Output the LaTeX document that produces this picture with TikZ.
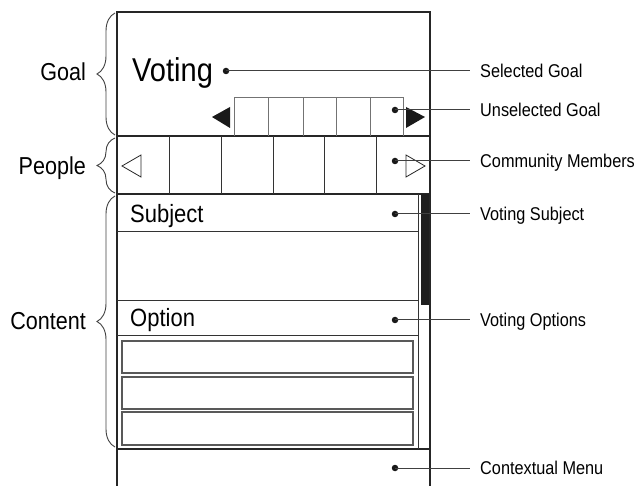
\documentclass[tikz,border=0pt]{standalone}
\usepackage{fontspec}
\setmainfont{Liberation Sans}[FakeStretch=0.88]
\usetikzlibrary{decorations.pathreplacing}
\begin{document}
\begin{tikzpicture}[x=1pt,y=-1pt,
  frame/.style={draw=black!85, line width=1.6pt},
  rule/.style={draw=black!80, line width=1pt},
  cell/.style={draw=black!55, line width=1pt},
  optbox/.style={draw=black!65, line width=1.3pt},
  bracestyle/.style={draw=black!75, line width=0.9pt, decorate,
    decoration={brace, amplitude=18pt}},
  dot/.style={circle, fill=black!90, inner sep=0pt, minimum size=6.5pt},
  callout/.style={draw=black!75, line width=1pt},
  tag/.style={anchor=west, inner xsep=10pt, inner ysep=0pt,
    text height=13.5pt, text depth=0pt, font=\fontsize{18.5}{20}\selectfont},
  side/.style={anchor=base east, inner sep=0pt, font=\fontsize{24.5}{26}\selectfont},
  heading/.style={anchor=base west, inner sep=0pt, font=\fontsize{25}{27}\selectfont},
]
\useasboundingbox (0,0) rectangle (643,486);

% outer frame and section rules
\draw[frame] (117,486) -- (117,12) -- (430,12) -- (430,486);
\draw[frame] (117,136) -- (430,136);
\draw[frame] (117,194) -- (430,194);
\draw[frame] (117,449) -- (430,449);

% goal selector strip
\draw[cell] (234,136) -- (234,98) -- (403,98) -- (403,136);
\foreach \gx in {268,303,336,370} \draw[cell] (\gx,98) -- (\gx,136);
\fill[black!90] (212,117) -- (230,107) -- (230,128) -- cycle;
\fill[black!90] (425,117) -- (406,107) -- (406,128) -- cycle;

% people row
\foreach \px in {169,221,273,324,376} \draw[rule] (\px,136) -- (\px,194);
\draw[black!85, line width=0.8pt] (122,166) -- (141,155) -- (141,177) -- cycle;
\draw[black!85, line width=0.8pt] (425,166) -- (406,155) -- (406,177) -- cycle;

% content area
\draw[rule] (418,194) -- (418,449);
\draw[rule] (117,232) -- (418,232);
\draw[rule] (117,301) -- (418,301);
\draw[rule] (117,336) -- (418,336);
\fill[black!88] (421,194) rectangle (429,305);
\draw[optbox] (122,341) rectangle (413,373);
\draw[optbox] (122,377) rectangle (413,409);
\draw[optbox] (122,412) rectangle (413,445);

% texts inside the screen
\node[heading, font=\fontsize{33}{36}\selectfont] (voting) at (132,82) {Voting};
\node[heading] (subject) at (130,223) {Subject};
\node[heading] (option) at (130,327) {Option};

% section braces and names
\draw[bracestyle] (115,135) -- (115,13);
\draw[bracestyle] (115,193) -- (115,138);
\draw[bracestyle] (115,447) -- (115,196);
\node[side] (goalname) at (86,81) {Goal};
\node[side] (peoplename) at (86,175) {People};
\node[side] (contentname) at (86,330) {Content};

% callout dots
\node[dot] (sel) at (226,71) {};
\node[dot] (unsel) at (395,110) {};
\node[dot] (comm) at (395,161) {};
\node[dot] (subj) at (395,214) {};
\node[dot] (opts) at (395,320) {};
\node[dot] (menu) at (395,468) {};

% callout labels
\node[tag] (selL) at (470,71) {Selected Goal};
\node[tag] (unselL) at (470,110) {Unselected Goal};
\node[tag] (commL) at (470,161) {Community Members};
\node[tag] (subjL) at (470,214) {Voting Subject};
\node[tag] (optsL) at (470,320) {Voting Options};
\node[tag] (menuL) at (470,468) {Contextual Menu};

% callout leaders
\draw[callout] (sel.center) -- (selL.west);
\draw[callout] (unsel.center) -- (unselL.west);
\draw[callout] (comm.center) -- (commL.west);
\draw[callout] (subj.center) -- (subjL.west);
\draw[callout] (opts.center) -- (optsL.west);
\draw[callout] (menu.center) -- (menuL.west);
\end{tikzpicture}
\end{document}
